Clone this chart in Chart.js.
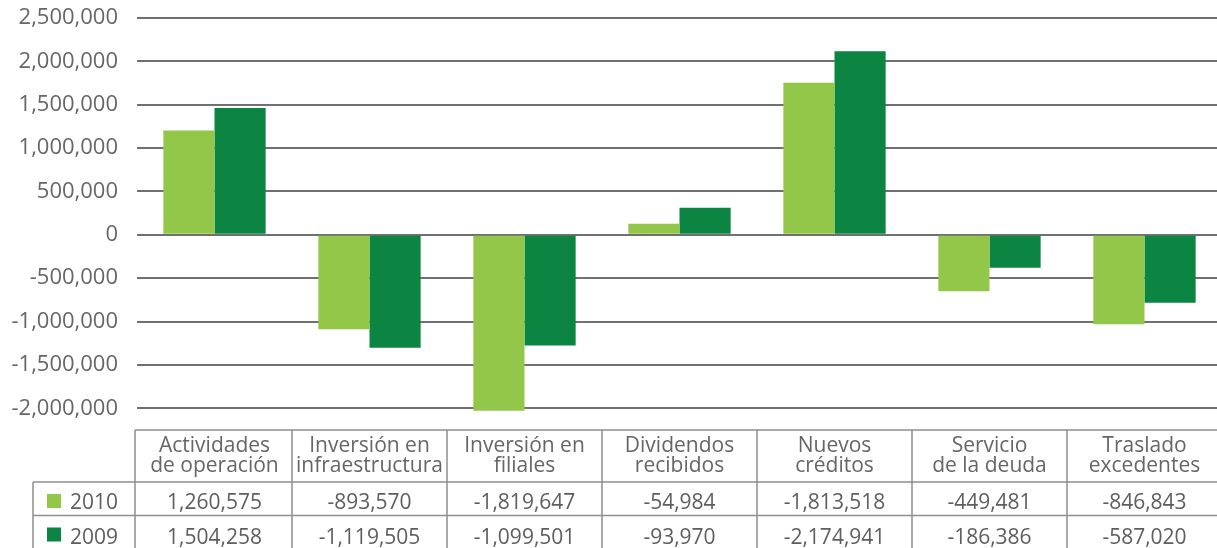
<!DOCTYPE html>
<html>
<head>
<meta charset="utf-8">
<script src="https://cdn.jsdelivr.net/npm/chart.js@4"></script>
<style>
  html, body { margin: 0; padding: 0; background: #ffffff; overflow: hidden; width: 1217px; height: 548px; }
  #wrap { width: 1222px; height: 548px; position: relative; }
</style>
</head>
<body>
<div id="wrap"><canvas id="c"></canvas></div>
<script>
// ---- data ----
const categories = [
  ['Actividades', 'de operación'],
  ['Inversión en', 'infraestructura'],
  ['Inversión en', 'filiales'],
  ['Dividendos', 'recibidos'],
  ['Nuevos', 'créditos'],
  ['Servicio', 'de la deuda'],
  ['Traslado', 'excedentes']
];
const seriesNames = ['2010', '2009'];
const values2010 = [1204000, -1089000, -2028000, 127000, 1754000, -649000, -1031000];
const values2009 = [1463000, -1302000, -1275000, 312000, 2117000, -380000, -784000];
const table2010 = ['1,260,575', '-893,570', '-1,819,647', '-54,984', '-1,813,518', '-449,481', '-846,843'];
const table2009 = ['1,504,258', '-1,119,505', '-1,099,501', '-93,970', '-2,174,941', '-186,386', '-587,020'];
const yTicks = [2500000, 2000000, 1500000, 1000000, 500000, 0, -500000, -1000000, -1500000, -2000000];

const colors = ['#92C74A', '#0C8542'];
const FONT = "'Open Sans', 'DejaVu Sans', sans-serif";

const tablePlugin = {
  id: 'dataTable',
  afterDraw(chart) {
    const ctx = chart.ctx;
    const area = chart.chartArea;
    const xs = chart.scales.x;
    const n = categories.length;
    const colW = (area.right - area.left) / n;
    const tableLeft = area.left - 2;
    const legendLeft = 33;
    const top = 430;
    const r1 = top + 52;
    const r2 = r1 + 33.5;
    const bottom = 560;
    const right = chart.width;

    ctx.save();
    ctx.strokeStyle = '#8e8e8e';
    ctx.lineWidth = 1.5;
    ctx.beginPath();
    ctx.moveTo(tableLeft, top); ctx.lineTo(right, top);
    ctx.moveTo(legendLeft, r1); ctx.lineTo(right, r1);
    ctx.moveTo(legendLeft, r2); ctx.lineTo(right, r2);
    ctx.moveTo(legendLeft, r1); ctx.lineTo(legendLeft, bottom);
    for (let i = 0; i < n; i++) {
      const bx = i === 0 ? tableLeft : area.left + i * colW;
      ctx.moveTo(bx, top); ctx.lineTo(bx, bottom);
    }
    ctx.stroke();

    // header text
    ctx.fillStyle = '#666666';
    ctx.textAlign = 'center';
    ctx.textBaseline = 'alphabetic';
    ctx.font = '21px ' + FONT;
    categories.forEach((lines, i) => {
      const cx = xs.getPixelForValue(i);
      ctx.fillText(lines[0], cx, top + 21.5);
      ctx.fillText(lines[1], cx, top + 41.5);
    });

    // values
    ctx.fillStyle = '#5e5e5e';
    ctx.font = '21px ' + FONT;
    [table2010, table2009].forEach((row, k) => {
      const base = k === 0 ? r1 + 27 : r2 + 28.5;
      row.forEach((txt, i) => {
        ctx.fillText(txt, xs.getPixelForValue(i), base);
      });
      // legend key
      ctx.fillStyle = colors[k];
      ctx.fillRect(47, (k === 0 ? r1 : r2) + 12, 14, 14);
      ctx.fillStyle = '#5e5e5e';
      ctx.textAlign = 'right';
      ctx.fillText(seriesNames[k], 118, base);
      ctx.textAlign = 'center';
    });
    ctx.restore();
  }
};

new Chart(document.getElementById('c'), {
  type: 'bar',
  data: {
    labels: categories,
    datasets: [
      { label: seriesNames[0], data: values2010, backgroundColor: colors[0], borderWidth: 0,
        categoryPercentage: 0.66, barPercentage: 1.0 },
      { label: seriesNames[1], data: values2009, backgroundColor: colors[1], borderWidth: 0,
        categoryPercentage: 0.66, barPercentage: 1.0 }
    ]
  },
  options: {
    responsive: true,
    maintainAspectRatio: false,
    animation: false,
    devicePixelRatio: 1,
    layout: { padding: { top: 18, right: 0, bottom: 118, left: 0 } },
    plugins: { legend: { display: false }, tooltip: { enabled: false } },
    scales: {
      x: { display: false },
      y: {
        min: -2250000,
        max: 2500000,
        afterBuildTicks(scale) { scale.ticks = yTicks.map(v => ({ value: v })); },
        afterFit(scale) { scale.width = 137; },
        border: { display: false },
        grid: { color: '#707070', lineWidth: 2, drawTicks: true, tickLength: 19, tickColor: 'rgba(0,0,0,0)' },
        ticks: {
          padding: 0,
          color: '#666666',
          font: { family: FONT, size: 22 },
          callback: v => Number(v).toLocaleString('en-US')
        }
      }
    }
  },
  plugins: [tablePlugin]
});
</script>
</body>
</html>
